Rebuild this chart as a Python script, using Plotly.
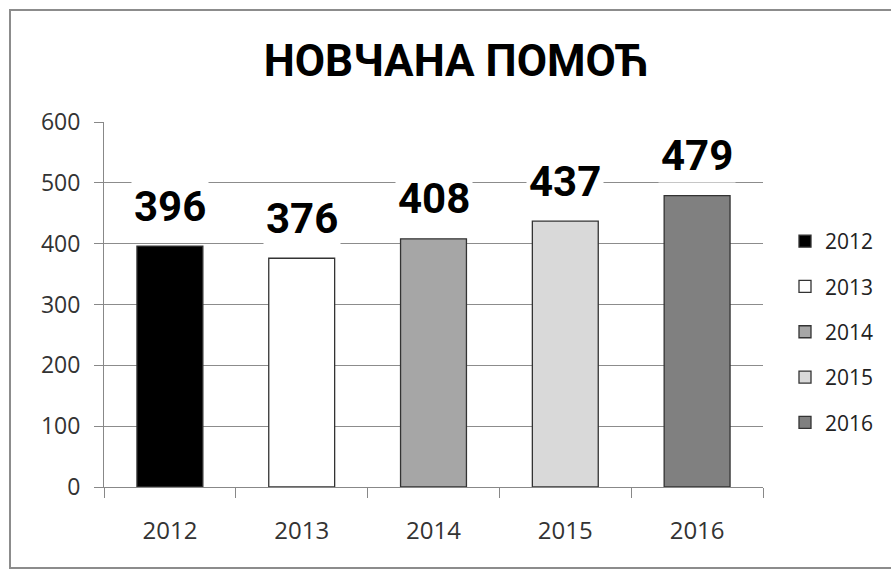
import plotly.graph_objects as go

years = ["2012", "2013", "2014", "2015", "2016"]
values = [396, 376, 408, 437, 479]
colors = ["#000000", "#ffffff", "#a6a6a6", "#d9d9d9", "#808080"]
title = "НОВЧАНА ПОМОЋ"
y_ticks = [0, 100, 200, 300, 400, 500, 600]

W, H = 891, 572
L, R, T, B = 104, 128, 122, 85

fig = go.Figure()
for i, (yr, v, c) in enumerate(zip(years, values, colors)):
    fig.add_trace(go.Bar(
        x=[yr], y=[v], name=yr, marker=dict(color=c, line=dict(color="#333333", width=1.3)),
        legendgroup=yr, showlegend=True, width=0.5,
    ))
    fig.add_annotation(x=i, y=v, text=str(v), showarrow=False, yanchor="middle", yshift=40,
                       font=dict(family="Liberation Sans Narrow, Roboto", size=42, color="#000000", weight="bold"),
                       bgcolor="#ffffff", borderpad=2)

pw = W - L - R
ph = H - T - B
fig.add_shape(type="rect", xref="paper", yref="paper",
              x0=(10 - L) / pw, x1=(W + 5 - L) / pw,
              y0=(H - 568 - B) / ph, y1=(H - 10 - B) / ph,
              line=dict(color="#8c8c8c", width=2), fillcolor="rgba(0,0,0,0)", layer="below")

fig.update_layout(
    width=W, height=H,
    margin=dict(l=L, r=R, t=T, b=B, autoexpand=False),
    paper_bgcolor="#ffffff", plot_bgcolor="#ffffff",
    barmode="overlay",
    title=dict(text=title, x=456 / W, xanchor="center", y=1 - 61 / H, yanchor="middle",
               font=dict(family="Liberation Sans Narrow, Roboto", size=44, color="#000000", weight="bold")),
    font=dict(family="Open Sans", size=22, color="#333333"),
    showlegend=True,
    legend=dict(x=(785 - L) / pw, xanchor="left", y=1 - (221 - T) / ph, yanchor="top",
                tracegroupgap=15, traceorder="grouped",
                font=dict(size=21, color="#222222"), itemwidth=30),
    xaxis=dict(type="category", categoryarray=years, categoryorder="array", range=[-0.5, 4.5],
               showline=True, linecolor="#888888", linewidth=1,
               ticks="outside", tickson="boundaries", ticklen=10, tickcolor="#888888",
               ticklabelstandoff=22,
               showgrid=False, tickangle=0, tickfont=dict(size=24, color="#333333")),
    yaxis=dict(range=[0, 600], tickvals=y_ticks, showline=True, linecolor="#888888", linewidth=1,
               ticks="outside", ticklen=9, tickcolor="#888888", ticklabelstandoff=9,
               showgrid=True, gridcolor="#8c8c8c", gridwidth=1, zeroline=False,
               tickfont=dict(size=23, color="#333333")),
)

fig.write_html("out.html", config={"displayModeBar": False},
               post_script="document.body.style.margin='0';")
